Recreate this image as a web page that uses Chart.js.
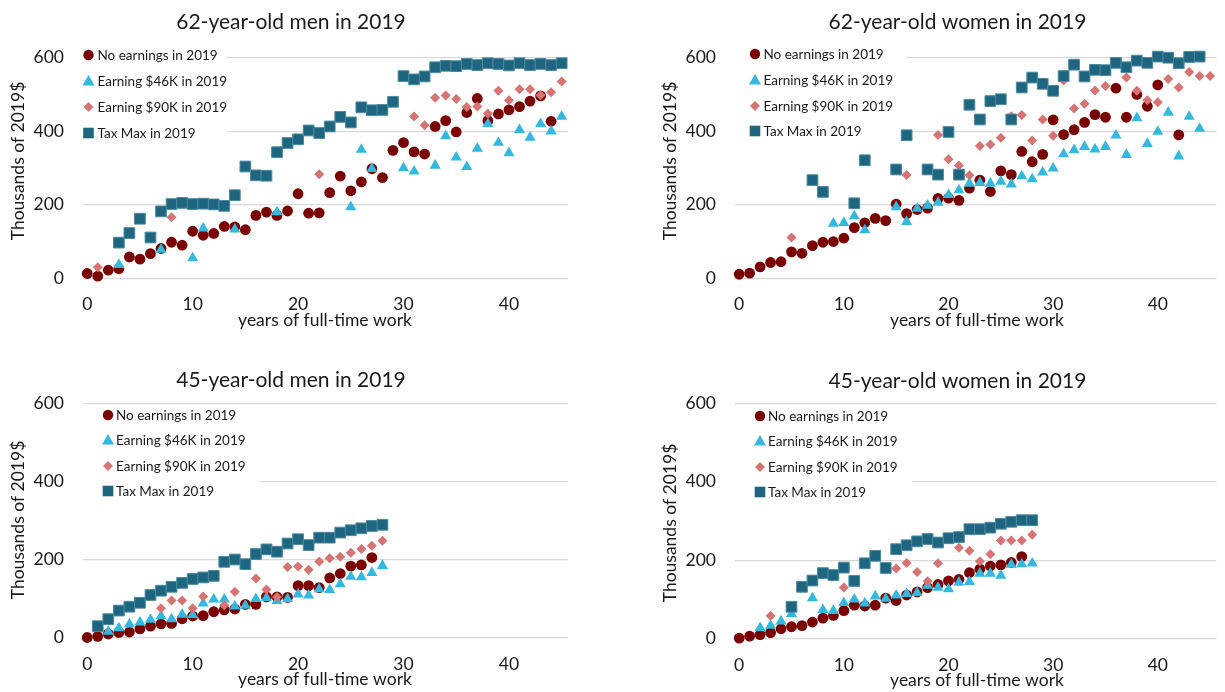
<!DOCTYPE html>
<html>
<head>
<meta charset="utf-8">
<script src="https://cdn.jsdelivr.net/npm/chart.js@4.4.1/dist/chart.umd.min.js"></script>
<style>
  html, body { margin: 0; padding: 0; background: #ffffff; width: 1225px; height: 692px; overflow: hidden; }
  canvas { position: absolute; }
</style>
</head>
<body>
<canvas id="men62" width="612" height="346" style="left:0px;top:0px"></canvas>
<canvas id="women62" width="613" height="346" style="left:612px;top:0px"></canvas>
<canvas id="men45" width="612" height="346" style="left:0px;top:346px"></canvas>
<canvas id="women45" width="613" height="346" style="left:612px;top:346px"></canvas>
<script>
// ---- labels ----
const seriesNames = ['No earnings in 2019', 'Earning $46K in 2019', 'Earning $90K in 2019', 'Tax Max in 2019'];
const xTicks = [0, 10, 20, 30, 40];
const yTicks = [0, 200, 400, 600];
const xTitle = 'years of full-time work';
const yTitle = 'Thousands of 2019$';

// ---- 62-year-old men ----
const m62NoneX = [0,1,2,3,4,5,6,7,8,9,10,11,12,13,14,15,16,17,18,19,20,21,22,23,24,25,26,27,28,29,30,31,32,33,34,35,36,37,38,39,40,41,42,43,44];
const m62NoneY = [13,6,22,26,58,52,67,81,98,90,128,117,122,141,140,132,171,180,171,183,230,177,178,233,278,238,262,298,274,348,369,344,338,413,429,398,451,489,429,447,458,467,482,496,427];
const m62K46X = [3,7,10,11,14,18,25,26,27,30,31,33,34,35,36,37,38,39,40,41,42,43,44,45];
const m62K46Y = [37,78,55,136,133,180,194,350,298,300,291,307,387,329,303,353,420,369,341,404,383,420,400,440];
const m62K90X = [1,8,22,31,32,33,34,35,36,37,38,39,40,41,42,43,44,45];
const m62K90Y = [30,166,283,440,416,491,497,488,466,467,448,510,484,514,514,498,506,535];
const m62MaxX = [3,4,5,6,7,8,9,10,11,12,13,14,15,16,17,18,19,20,21,22,23,24,25,26,27,28,29,30,31,32,33,34,35,36,37,38,39,40,41,42,43,44,45];
const m62MaxY = [97,123,162,111,182,202,205,202,203,201,197,226,304,280,279,343,368,378,402,395,413,439,424,465,457,458,480,550,541,549,574,578,577,583,580,585,583,579,585,580,583,580,585];

// ---- 62-year-old women ----
const w62NoneX = [0,1,2,3,4,5,6,7,8,9,10,11,12,13,14,15,16,17,18,19,20,21,22,23,24,25,26,27,28,29,30,31,32,33,34,35,36,37,38,39,40,42];
const w62NoneY = [11,14,31,43,45,72,68,89,98,100,109,138,151,163,157,202,176,187,191,217,218,212,245,267,236,292,282,345,317,337,431,391,404,424,445,438,517,438,500,468,526,390];
const w62K46X = [9,10,11,12,15,16,17,18,19,20,21,22,23,24,25,26,27,28,29,30,31,32,33,34,35,36,37,38,39,40,41,42,43,44];
const w62K46Y = [149,151,169,131,194,154,190,198,206,227,240,258,260,258,263,256,278,270,288,299,338,349,358,351,358,389,336,436,366,399,451,332,440,407];
const w62K90X = [5,16,19,20,21,22,23,24,25,26,27,28,29,30,31,32,33,34,35,37,38,39,40,41,42,43,44,45];
const w62K90Y = [111,281,390,324,307,280,360,364,382,441,444,375,432,388,538,462,475,511,523,546,510,484,479,542,519,561,550,550];
const w62MaxX = [7,8,11,12,15,16,18,19,20,21,22,23,24,25,26,27,28,29,30,31,32,33,34,35,36,37,38,39,40,41,42,43,44,45];
const w62MaxY = [267,235,204,321,296,389,296,282,398,282,472,432,482,487,432,519,546,529,510,550,581,549,567,566,586,574,592,586,603,600,585,602,603,626];

// ---- 45-year-old men ----
const m45NoneX = [0,1,2,3,4,5,6,7,8,9,10,11,12,13,14,15,16,17,18,19,20,21,22,23,24,25,26,27];
const m45NoneY = [0,3,9,13,14,22,29,35,36,48,55,56,66,71,73,85,85,104,104,103,133,133,128,153,164,183,186,205];
const m45K46X = [2,3,4,5,6,7,8,9,10,11,12,13,14,15,16,17,18,19,20,21,22,23,24,25,26,27,28];
const m45K46Y = [15,24,34,39,46,55,47,59,58,88,98,98,80,82,99,102,94,99,111,108,124,122,137,156,155,166,184];
const m45K90X = [2,7,8,9,10,11,13,14,16,17,18,19,20,21,22,23,24,25,26,27,28];
const m45K90Y = [50,75,95,95,75,105,83,117,151,123,104,181,182,174,195,203,207,217,227,235,248];
const m45MaxX = [1,2,3,4,5,6,7,8,9,10,11,12,13,14,15,16,17,18,19,20,21,22,23,24,25,26,27,28];
const m45MaxY = [29,47,69,79,89,109,120,130,140,150,154,158,194,200,188,214,226,220,241,252,237,256,256,269,275,280,286,289];

// ---- 45-year-old women ----
const w45NoneX = [0,1,2,3,4,5,6,7,8,9,10,11,12,13,14,15,16,17,18,19,20,21,22,23,24,25,26,27];
const w45NoneY = [1,6,10,15,25,30,33,42,52,59,71,85,83,85,103,97,111,119,130,138,147,151,168,177,185,188,194,209];
const w45K46X = [2,3,4,5,7,8,9,10,11,12,13,14,15,16,17,18,19,20,21,22,23,24,25,26,27,28];
const w45K46Y = [27,33,44,63,103,73,71,91,100,90,108,102,110,114,117,135,130,126,143,145,166,166,161,189,190,192];
const w45K90X = [3,10,14,15,16,17,18,19,21,22,23,24,25,26,27,28];
const w45K90Y = [58,130,176,179,193,170,146,192,232,224,197,215,250,250,250,265];
const w45MaxX = [5,6,7,8,9,10,11,12,13,14,15,16,17,18,19,20,21,22,23,24,25,26,27,28];
const w45MaxY = [81,132,148,167,162,181,147,192,211,180,228,238,248,254,245,256,259,279,279,283,293,298,302,302];

// ---- marker styles, one per series ----
const markerStyles = [
  { pointStyle: 'circle',   radius: 5.4, color: '#7a0000', border: '#7a0000', order: 4 },
  { pointStyle: 'triangle', radius: 6.4, color: '#33b8e0', border: '#33b8e0', order: 3 },
  { pointStyle: 'rectRot',  radius: 5.0, color: '#d67474', border: '#d67474', order: 2 },
  { pointStyle: 'rect',     radius: 7.6, color: '#1e6680', border: '#4d8aa0', order: 1 }
];

const FONT = "Lato, 'Open Sans', 'DejaVu Sans', sans-serif";
const TEXT_COLOR = '#1a1a1a';

function pairs(xs, ys) {
  return xs.map((x, i) => ({ x: x, y: ys[i] }));
}

// small marker used in the in-plot key
function drawKeyMarker(ctx, style, x, y) {
  ctx.save();
  ctx.fillStyle = style.color;
  ctx.beginPath();
  if (style.pointStyle === 'circle') {
    ctx.arc(x, y, 5.2, 0, Math.PI * 2);
  } else if (style.pointStyle === 'triangle') {
    ctx.moveTo(x, y - 6);
    ctx.lineTo(x + 6, y + 4.5);
    ctx.lineTo(x - 6, y + 4.5);
    ctx.closePath();
  } else if (style.pointStyle === 'rectRot') {
    ctx.moveTo(x, y - 5);
    ctx.lineTo(x + 5, y);
    ctx.lineTo(x, y + 5);
    ctx.lineTo(x - 5, y);
    ctx.closePath();
  } else {
    ctx.rect(x - 5.3, y - 5.3, 10.6, 10.6);
  }
  ctx.fill();
  ctx.restore();
}

function makePanel(id, spec, xsList, ysList) {
  const ox = spec.ox, oy = spec.oy;
  const datasets = xsList.map((xs, i) => {
    const st = markerStyles[i];
    return {
      label: seriesNames[i],
      data: pairs(xs, ysList[i]),
      pointStyle: st.pointStyle,
      pointRadius: st.radius,
      pointHoverRadius: st.radius,
      backgroundColor: st.color,
      borderColor: st.border,
      borderWidth: i === 3 ? 1 : 0,
      showLine: false,
      clip: false,
      order: st.order
    };
  });

  const textPlugin = {
    id: 'panelText_' + id,
    beforeDatasetsDraw(chart) {
      const ctx = chart.ctx;
      const b = spec.keyBox;
      ctx.save();
      ctx.fillStyle = '#ffffff';
      ctx.fillRect(b[0] - ox, b[1] - oy, b[2] - b[0], b[3] - b[1]);
      ctx.restore();
    },
    afterDraw(chart) {
      const ctx = chart.ctx;
      ctx.save();
      ctx.fillStyle = TEXT_COLOR;
      ctx.textAlign = 'center';
      ctx.textBaseline = 'middle';
      // panel title
      ctx.font = '21px ' + FONT;
      ctx.fillText(spec.title, spec.titleX - ox, spec.titleY - oy);
      // x axis title
      ctx.font = '17.5px ' + FONT;
      ctx.fillText(xTitle, spec.xTitleX - ox, spec.xTitleY - oy);
      // y axis title
      ctx.save();
      ctx.translate(spec.yTitleX - ox, spec.yTitleY - oy);
      ctx.rotate(-Math.PI / 2);
      ctx.fillText(yTitle, 0, 0);
      ctx.restore();
      // key
      ctx.font = '13.5px ' + FONT;
      ctx.textAlign = 'left';
      spec.keyRows.forEach((ry, i) => {
        drawKeyMarker(ctx, markerStyles[i], spec.keyMarkX - ox, ry - oy);
        ctx.fillStyle = TEXT_COLOR;
        ctx.fillText(seriesNames[i], spec.keyTextX - ox, ry - oy + 0.5);
      });
      ctx.restore();
    }
  };

  const tickFont = { family: FONT, size: 17.5 };

  return new Chart(document.getElementById(id), {
    type: 'scatter',
    data: { datasets: datasets },
    options: {
      responsive: false,
      animation: false,
      events: [],
      layout: { padding: { top: spec.top - oy, right: spec.padRight, left: 0, bottom: 0 } },
      scales: {
        x: {
          type: 'linear',
          min: -0.4,
          max: 45.6,
          grid: { display: false, drawTicks: false },
          border: { display: false },
          ticks: { font: tickFont, color: TEXT_COLOR, padding: 16, maxRotation: 0, autoSkip: false },
          afterBuildTicks: (s) => { s.ticks = xTicks.map(v => ({ value: v })); },
          afterFit: (s) => { s.height = spec.canvasH - (spec.bottom - oy); }
        },
        y: {
          type: 'linear',
          min: 0,
          max: 600,
          grid: { color: '#d9d9d9', lineWidth: 1.3, drawTicks: false },
          border: { display: false },
          ticks: { font: tickFont, color: TEXT_COLOR, padding: 19 },
          afterBuildTicks: (s) => { s.ticks = yTicks.map(v => ({ value: v })); },
          afterFit: (s) => { s.width = spec.left - ox; }
        }
      },
      plugins: {
        legend: { display: false },
        tooltip: { enabled: false },
        title: { display: false }
      }
    },
    plugins: [textPlugin]
  });
}

makePanel('men62', {
  ox: 0, oy: 0, canvasH: 346, left: 83, top: 57.7, bottom: 278.3, padRight: 44,
  title: '62-year-old men in 2019', titleX: 291, titleY: 22,
  xTitleX: 325, xTitleY: 320, yTitleX: 18, yTitleY: 161,
  keyMarkX: 88.5, keyTextX: 97.5, keyRows: [55, 81, 107, 133], keyBox: [83, 43, 227, 146]
}, [m62NoneX, m62K46X, m62K90X, m62MaxX], [m62NoneY, m62K46Y, m62K90Y, m62MaxY]);

makePanel('women62', {
  ox: 612, oy: 0, canvasH: 346, left: 735, top: 57.7, bottom: 278.3, padRight: 3,
  title: '62-year-old women in 2019', titleX: 957.5, titleY: 22,
  xTitleX: 977, xTitleY: 320, yTitleX: 670, yTitleY: 161,
  keyMarkX: 755, keyTextX: 763.5, keyRows: [54, 80, 106, 131], keyBox: [735, 43, 907, 145]
}, [w62NoneX, w62K46X, w62K90X, w62MaxX], [w62NoneY, w62K46Y, w62K90Y, w62MaxY]);

makePanel('men45', {
  ox: 0, oy: 346, canvasH: 346, left: 83, top: 403.5, bottom: 637.5, padRight: 44,
  title: '45-year-old men in 2019', titleX: 291, titleY: 380,
  xTitleX: 325, xTitleY: 679, yTitleX: 18, yTitleY: 520,
  keyMarkX: 108, keyTextX: 116, keyRows: [415, 440, 466, 491], keyBox: [83, 405, 260, 503]
}, [m45NoneX, m45K46X, m45K90X, m45MaxX], [m45NoneY, m45K46Y, m45K90Y, m45MaxY]);

makePanel('women45', {
  ox: 612, oy: 346, canvasH: 346, left: 735, top: 403.5, bottom: 638.5, padRight: 3,
  title: '45-year-old women in 2019', titleX: 957.5, titleY: 381,
  xTitleX: 977, xTitleY: 680, yTitleX: 670, yTitleY: 523,
  keyMarkX: 760, keyTextX: 768, keyRows: [416, 441, 467, 492], keyBox: [735, 405, 912, 504]
}, [w45NoneX, w45K46X, w45K90X, w45MaxX], [w45NoneY, w45K46Y, w45K90Y, w45MaxY]);
</script>
</body>
</html>
